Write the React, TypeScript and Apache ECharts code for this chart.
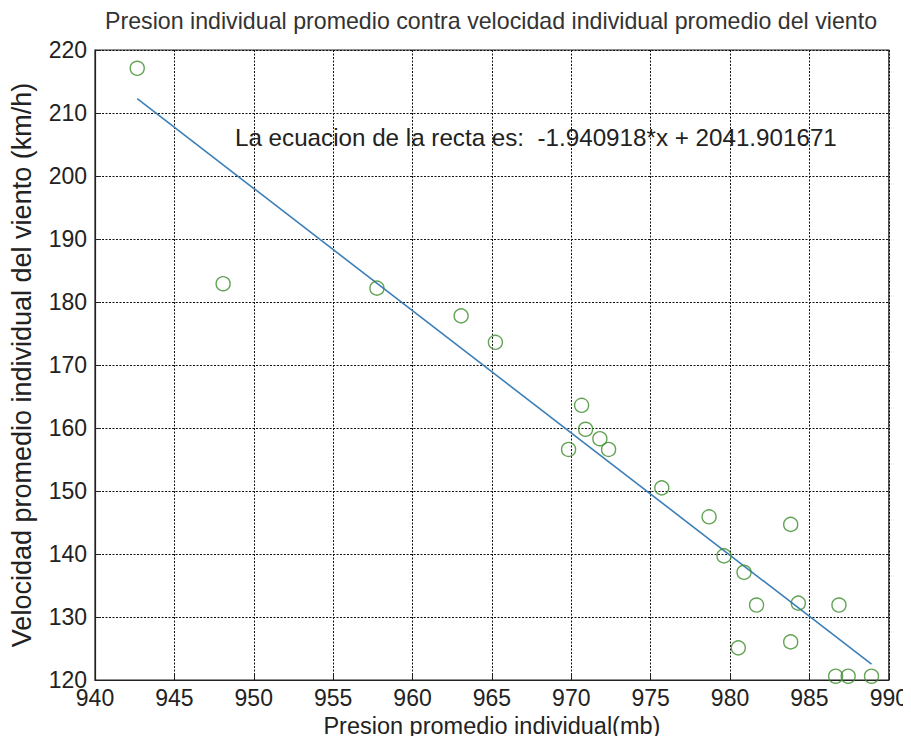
import React, { useEffect, useRef } from "react";
import * as echarts from "echarts";

const presion: number[] = [
  942.66, 948.07, 957.76, 963.06, 965.22, 970.65, 970.9, 971.8, 969.83, 972.35,
  975.7, 978.68, 983.82, 979.62, 980.88, 981.67, 984.3, 986.86, 983.82, 980.52,
  986.65, 987.44, 988.91,
];
const velocidad: number[] = [
  217.1, 182.9, 182.2, 177.8, 173.6, 163.6, 159.8, 158.3, 156.6, 156.6,
  150.5, 145.9, 144.7, 139.7, 137.1, 131.9, 132.2, 131.9, 126.05, 125.1,
  120.6, 120.6, 120.6,
];
const slope = -1.940918;
const intercept = 2041.901671;
const fitX: number[] = [942.66, 988.91];

const FONT = "'Liberation Sans', Arial, sans-serif";

export default function App() {
  const ref = useRef<HTMLDivElement>(null);
  useEffect(() => {
    if (!ref.current) return;
    const chart = echarts.init(ref.current, undefined, { renderer: "svg" });
    const pts = presion.map((x, i) => [x, velocidad[i]]);
    const fit = fitX.map((x) => [x, slope * x + intercept]);
    chart.setOption({
      animation: false,
      backgroundColor: "#ffffff",
      textStyle: { fontFamily: FONT },
      title: {
        text: "Presion individual promedio contra velocidad individual promedio del viento",
        left: 491,
        textAlign: "center",
        top: 9,
        padding: 0,
        textStyle: { fontFamily: FONT, fontSize: 23.2, fontWeight: "normal", color: "#333" },
      },
      grid: {
        left: 95,
        top: 50,
        right: 22,
        bottom: 64,
        show: true,
        borderColor: "#222",
        borderWidth: 1.2,
        backgroundColor: "transparent",
      },
      xAxis: {
        type: "value",
        min: 940,
        max: 990,
        interval: 5,
        name: "Presion promedio individual(mb)",
        nameLocation: "middle",
        nameGap: 33,
        nameTextStyle: { fontFamily: FONT, fontSize: 23.5, color: "#222" },
        axisLine: { show: true, lineStyle: { color: "#222", width: 1.2 } },
        axisTick: { show: true, inside: true, length: 6, lineStyle: { color: "#222" } },
        axisLabel: { fontFamily: FONT, fontSize: 23, color: "#222", margin: 6 },
        splitLine: { show: true, lineStyle: { color: "#111", type: [2, 1.5], width: 1 } },
      },
      yAxis: {
        type: "value",
        min: 120,
        max: 220,
        interval: 10,
        name: "Velocidad promedio individual del viento (km/h)",
        nameLocation: "middle",
        nameGap: 60,
        nameRotate: 90,
        nameTextStyle: { fontFamily: FONT, fontSize: 27, color: "#222" },
        axisLine: { show: true, lineStyle: { color: "#222", width: 1.2 } },
        axisTick: { show: true, inside: true, length: 6, lineStyle: { color: "#222" } },
        axisLabel: { fontFamily: FONT, fontSize: 23, color: "#222", margin: 8 },
        splitLine: { show: true, lineStyle: { color: "#111", type: [2, 1.5], width: 1 } },
      },
      graphic: [
        {
          type: "text",
          left: 235,
          top: 125,
          style: {
            text: "La ecuacion de la recta es:  -1.940918*x + 2041.901671",
            font: `24.2px ${FONT}`,
            fill: "#222",
          },
        },
      ],
      series: [
        {
          type: "line",
          data: fit,
          symbol: "none",
          lineStyle: { color: "#3b7fb8", width: 1.6 },
          z: 3,
        },
        {
          type: "scatter",
          data: pts,
          symbol: "circle",
          symbolSize: 14,
          itemStyle: { color: "transparent", borderColor: "#3c8c2c", borderWidth: 1.4 },
          z: 4,
        },
      ],
    });
    return () => chart.dispose();
  }, []);
  return <div ref={ref} style={{ width: 911, height: 744, margin: -8 }} />;
}
